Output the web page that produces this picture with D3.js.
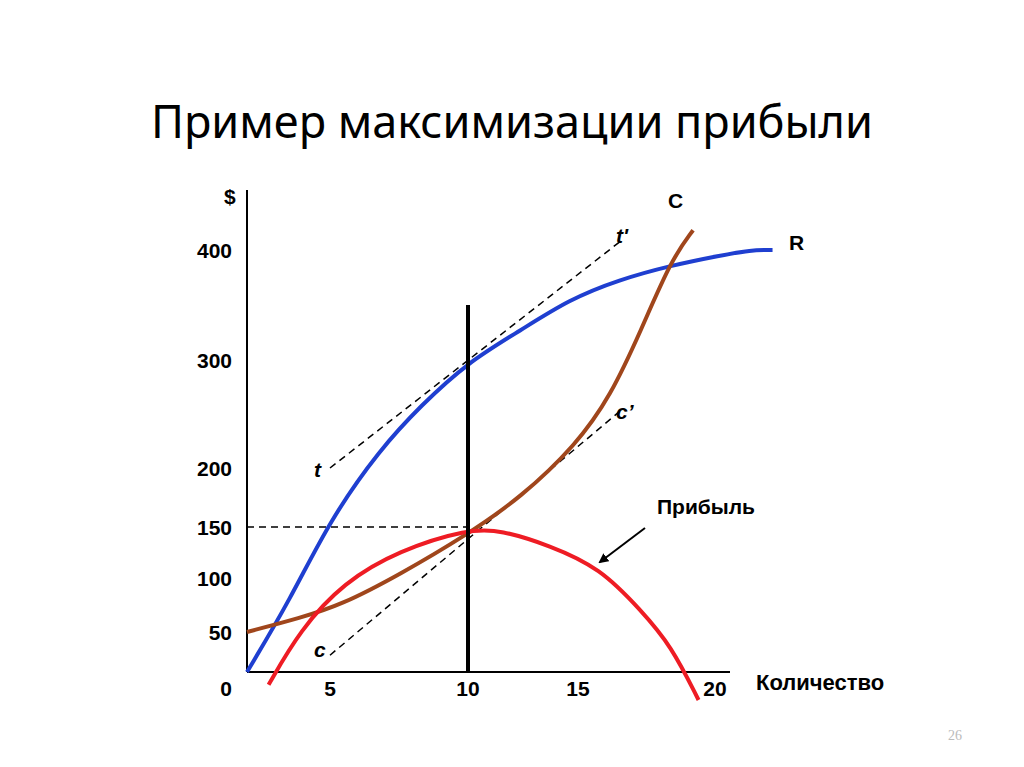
<!DOCTYPE html>
<html><head><meta charset="utf-8">
<script src="https://cdnjs.cloudflare.com/ajax/libs/d3/7.8.5/d3.min.js"></script>
<style>body{margin:0;background:#fff}</style>
</head><body>
<script>
// values (quantity, $)
var xTicks = [0, 5, 10, 15, 20];
var yTicks = [0, 50, 100, 150, 200, 300, 400];
var revenue = [[0,0],[2.6,80],[5,156],[6.8,217],[8.3,258],[10,298],[12.4,327],[14.6,355],[16.5,373],[18.4,386],[20.2,395],[21.3,400],[22.1,400]];
var cost = [[0,50],[3.2,63],[5.4,75],[7.5,103],[10,143],[12.4,175],[14.9,221],[16.2,267],[17.3,327],[18.4,391],[19.2,418]];
var profit = [[1.3,-16],[3.2,52],[5.5,96],[7.5,127],[10,148],[11.5,147],[13.7,132],[15.8,110],[17.3,70],[18.4,33],[19.4,-35]];
var tangentR = [[5,200],[16.5,407]];
var tangentC = [[5,21],[16.5,252]];
var qStar = 10, maxProfit = 150;

var svg = d3.select('body').append('svg').attr('width', 1024).attr('height', 767);

// axes are not evenly spaced in the original, so piecewise scales
var x = d3.scaleLinear().domain(xTicks).range([247, 330, 468, 578, 715]);
var y = d3.scaleLinear().domain(yTicks).range([672, 632, 578, 527, 468, 360, 250]);

svg.append('text').attr('x', 512).attr('y', 138).attr('text-anchor', 'middle')
    .style('font', '45px "Noto Sans", sans-serif').text('Пример максимизации прибыли');

svg.append('line').attr('x1', 247).attr('x2', 247).attr('y1', 190).attr('y2', 672)
    .attr('stroke', '#000').attr('stroke-width', 2);
svg.append('line').attr('x1', 247).attr('x2', 730).attr('y1', 672).attr('y2', 672)
    .attr('stroke', '#000').attr('stroke-width', 2);

var bold = 'bold 21px "Liberation Sans", Arial, sans-serif';
svg.selectAll('.yl').data(yTicks).enter().append('text')
    .attr('x', 232).attr('y', function(d) { return y(d) + (d === 0 ? 24 : 8); })
    .attr('text-anchor', 'end').style('font', bold).text(function(d) { return d; });
svg.selectAll('.xl').data(xTicks.slice(1)).enter().append('text')
    .attr('x', function(d) { return x(d); }).attr('y', 696)
    .attr('text-anchor', 'middle').style('font', bold).text(function(d) { return d; });
svg.append('text').attr('x', 224).attr('y', 204).style('font', bold).text('$');
svg.append('text').attr('x', 756).attr('y', 690).style('font', 'bold 22px "Liberation Sans", Arial, sans-serif').text('Количество');

var line = d3.line().x(function(d) { return x(d[0]); }).y(function(d) { return y(d[1]); })
    .curve(d3.curveBasis);

// dashed guides
svg.append('line').attr('x1', 247).attr('x2', x(qStar)).attr('y1', y(maxProfit)).attr('y2', y(maxProfit))
    .attr('stroke', '#000').attr('stroke-width', 1.5).attr('stroke-dasharray', '7,5');
[tangentR, tangentC].forEach(function(t) {
  svg.append('path').attr('d', d3.line().x(function(d) { return x(d[0]); }).y(function(d) { return y(d[1]); })(t))
      .attr('stroke', '#000').attr('stroke-width', 1.5).attr('stroke-dasharray', '7,5').attr('fill', 'none');
});

[[revenue, '#1f3fd0'], [cost, '#a0461c'], [profit, '#ee1c24']].forEach(function(s) {
  svg.append('path').attr('d', line(s[0])).attr('stroke', s[1]).attr('stroke-width', 4)
      .attr('fill', 'none');
});

svg.append('line').attr('x1', x(qStar)).attr('x2', x(qStar)).attr('y1', 305).attr('y2', 672)
    .attr('stroke', '#000').attr('stroke-width', 4);

var it = 'italic bold 21px "Liberation Sans", Arial, sans-serif';
svg.append('text').attr('x', 668).attr('y', 208).style('font', bold).text('C');
svg.append('text').attr('x', 789).attr('y', 250).style('font', bold).text('R');
svg.append('text').attr('x', 616).attr('y', 243).style('font', it).text("t'");
svg.append('text').attr('x', 616).attr('y', 419).style('font', it).text('c’');
svg.append('text').attr('x', 314).attr('y', 477).style('font', it).text('t');
svg.append('text').attr('x', 314).attr('y', 657).style('font', it).text('c');
svg.append('text').attr('x', 657).attr('y', 514).style('font', bold).text('Прибыль');

svg.append('defs').append('marker').attr('id', 'ah').attr('viewBox', '0 0 10 10')
    .attr('refX', 8).attr('refY', 5).attr('markerWidth', 5).attr('markerHeight', 5)
    .attr('orient', 'auto').append('path').attr('d', 'M0,0L10,5L0,10z').attr('fill', '#000');
svg.append('line').attr('x1', 645).attr('y1', 528).attr('x2', 600).attr('y2', 562)
    .attr('stroke', '#000').attr('stroke-width', 2).attr('marker-end', 'url(#ah)');

svg.append('text').attr('x', 948).attr('y', 740)
    .style('font', '14px "Liberation Serif", serif').attr('fill', '#bbb').text('26');
</script>
</body></html>
